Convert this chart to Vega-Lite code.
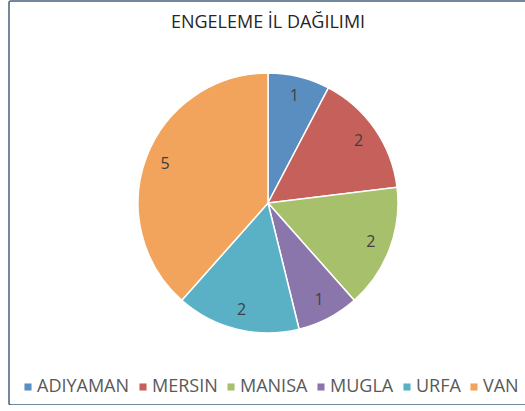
{
  "$schema": "https://vega.github.io/schema/vega-lite/v6.json",
  "width": 518,
  "height": 404,
  "padding": {"left": 9, "top": 1, "right": 0, "bottom": 0},
  "autosize": {"type": "none"},
  "background": "white",
  "title": {"text": "ENGELEME İL DAĞILIMI", "offset": -32, "fontSize": 18, "font": "Open Sans", "fontWeight": "normal", "color": "#262626", "anchor": "middle"},
  "data": {"values": [
    {"il": "ADIYAMAN", "count": 1, "idx": 1},
    {"il": "MERSIN", "count": 2, "idx": 2},
    {"il": "MANISA", "count": 2, "idx": 3},
    {"il": "MUGLA", "count": 1, "idx": 4},
    {"il": "URFA", "count": 2, "idx": 5},
    {"il": "VAN", "count": 5, "idx": 6}
  ]},
  "layer": [
    {"data": {"values": [{"frame": 1}]},
     "mark": {"type": "rect", "fill": null, "stroke": "#46627E", "strokeWidth": 1.5, "cornerRadius": 2},
     "encoding": {}},
    {"mark": {"type": "arc", "outerRadius": 130, "stroke": "white", "strokeWidth": 1.5},
     "encoding": {
       "theta": {"field": "count", "type": "quantitative", "stack": true},
       "order": {"field": "idx", "type": "quantitative"},
       "color": {"field": "il", "type": "nominal",
         "scale": {"domain": ["ADIYAMAN", "MERSIN", "MANISA", "MUGLA", "URFA", "VAN"],
                   "range": ["#5A8EC0", "#C6605A", "#A6C06B", "#8B76AC", "#5AB1C5", "#F2A45C"]},
         "legend": {"title": null}}
     }},
    {"mark": {"type": "text", "radius": 110, "fontSize": 16, "font": "Open Sans"},
     "encoding": {
       "theta": {"field": "count", "type": "quantitative", "stack": true},
       "order": {"field": "idx", "type": "quantitative"},
       "text": {"field": "count", "type": "quantitative"},
       "color": {"value": "#404040"}}}
  ],
  "config": {
    "view": {"stroke": null},
    "legend": {"orient": "none", "legendX": 10, "legendY": 377, "direction": "horizontal",
      "symbolType": "square", "symbolSize": 50, "labelFontSize": 18, "labelFont": "Open Sans",
      "labelColor": "#595959", "columnPadding": 4, "labelOffset": 0, "symbolStrokeWidth": 0}
  }
}
